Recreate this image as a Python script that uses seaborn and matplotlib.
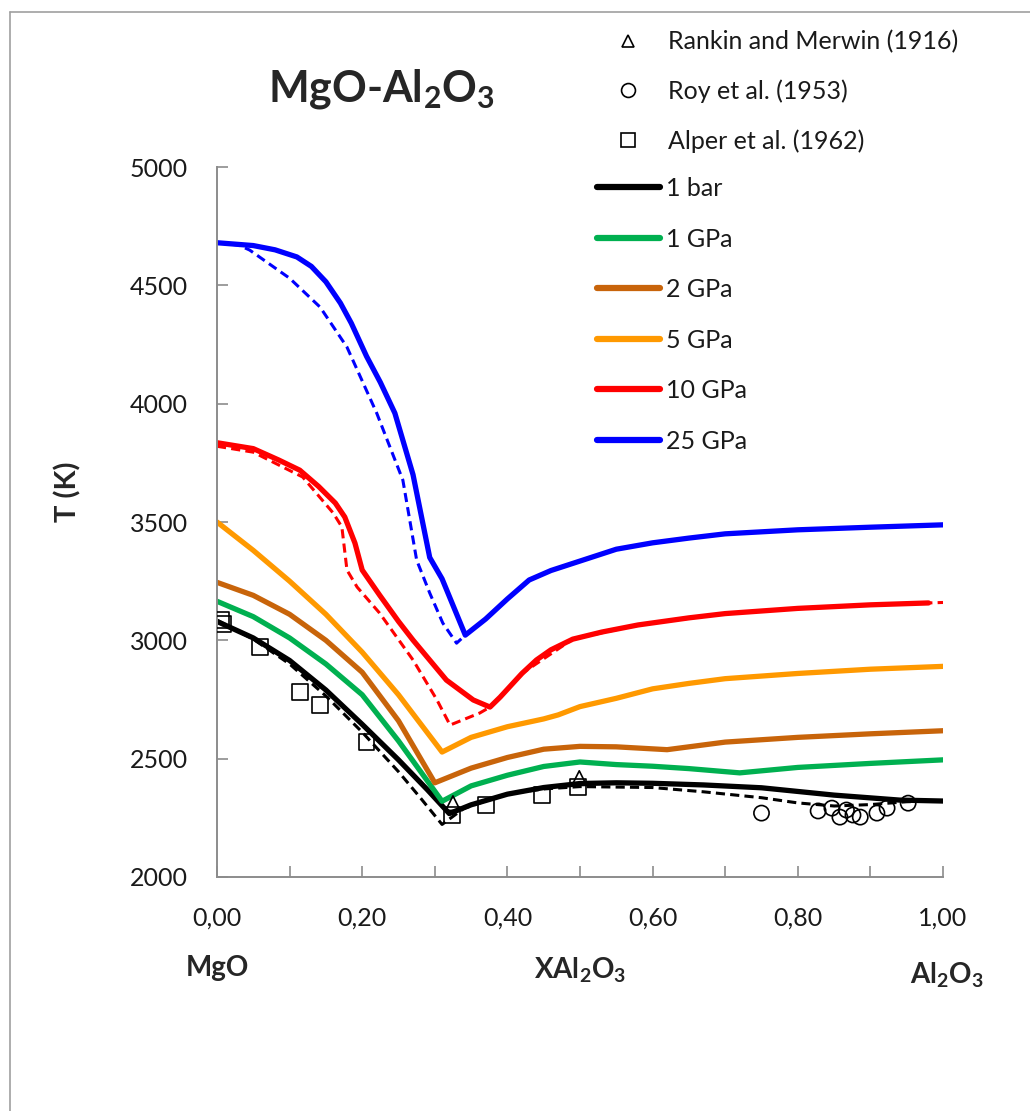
import matplotlib
matplotlib.use("Agg")
import matplotlib.pyplot as plt
from matplotlib.lines import Line2D
from matplotlib.ticker import FuncFormatter, MultipleLocator
import pandas as pd
import seaborn as sns

W, H = 1030, 1111
GRAY = "#8c8c8c"

SERIES = ["1 bar", "1 GPa", "2 GPa", "5 GPa", "10 GPa", "25 GPa"]
COLORS = ["#000000", "#00B050", "#C8640A", "#FF9900", "#FF0000", "#0000FF"]

# liquidus curves, solid lines
X_1BAR = [0.00, 0.05, 0.10, 0.15, 0.20, 0.25, 0.29, 0.32, 0.35, 0.40, 0.45, 0.50, 0.55, 0.60, 0.67, 0.75, 0.85, 0.94, 1.00]
T_1BAR = [3080, 3010, 2915, 2790, 2645, 2495, 2368, 2268, 2305, 2350, 2378, 2395, 2398, 2396, 2389, 2377, 2346, 2325, 2321]
X_1GPA = [0.00, 0.05, 0.10, 0.15, 0.20, 0.25, 0.31, 0.35, 0.40, 0.45, 0.50, 0.55, 0.60, 0.65, 0.72, 0.80, 0.90, 1.00]
T_1GPA = [3165, 3100, 3010, 2900, 2770, 2575, 2320, 2385, 2430, 2467, 2486, 2475, 2468, 2458, 2440, 2463, 2480, 2495]
X_2GPA = [0.00, 0.05, 0.10, 0.15, 0.20, 0.25, 0.30, 0.35, 0.40, 0.45, 0.50, 0.55, 0.62, 0.70, 0.80, 0.90, 1.00]
T_2GPA = [3245, 3190, 3110, 3000, 2865, 2660, 2398, 2460, 2505, 2540, 2552, 2550, 2538, 2570, 2590, 2605, 2618]
X_5GPA = [0.00, 0.05, 0.10, 0.15, 0.20, 0.25, 0.31, 0.35, 0.40, 0.45, 0.47, 0.50, 0.55, 0.60, 0.65, 0.70, 0.80, 0.90, 1.00]
T_5GPA = [3500, 3380, 3250, 3110, 2950, 2770, 2528, 2590, 2635, 2668, 2685, 2720, 2755, 2795, 2818, 2838, 2860, 2878, 2890]
X_10GPA = [0.00, 0.05, 0.085, 0.114, 0.14, 0.163, 0.176, 0.19, 0.20, 0.224, 0.25, 0.27, 0.316, 0.353, 0.376,
           0.39, 0.42, 0.44, 0.46, 0.49, 0.53, 0.58, 0.65, 0.70, 0.80, 0.90, 0.98]
T_10GPA = [3835, 3810, 3762, 3719, 3650, 3580, 3521, 3411, 3297, 3191, 3080, 3001, 2832, 2748, 2718,
           2760, 2860, 2917, 2960, 3005, 3035, 3065, 3095, 3113, 3135, 3150, 3158]
X_25GPA = [0.00, 0.05, 0.08, 0.11, 0.13, 0.15, 0.17, 0.185, 0.206, 0.225, 0.245, 0.27, 0.293, 0.31, 0.342,
           0.37, 0.40, 0.43, 0.46, 0.50, 0.55, 0.60, 0.65, 0.70, 0.80, 0.90, 1.00]
T_25GPA = [4680, 4668, 4650, 4620, 4580, 4515, 4425, 4340, 4200, 4090, 3960, 3700, 3350, 3260, 3022,
           3090, 3175, 3255, 3295, 3335, 3385, 3412, 3432, 3450, 3467, 3478, 3488]

# dashed curves
X_1BAR_D = [0.00, 0.05, 0.10, 0.15, 0.20, 0.25, 0.28, 0.31, 0.34, 0.40, 0.45, 0.50, 0.60, 0.67, 0.75, 0.80, 0.85, 0.90, 0.95, 1.00]
T_1BAR_D = [3085, 3005, 2900, 2765, 2612, 2445, 2335, 2222, 2290, 2352, 2372, 2382, 2378, 2360, 2335, 2313, 2300, 2306, 2318, 2322]
X_10GPA_D = [0.00, 0.05, 0.118, 0.16, 0.172, 0.179, 0.193, 0.224, 0.27, 0.303, 0.321, 0.362, 0.376,
             0.42, 0.49, 0.58, 0.70, 0.80, 0.90, 1.00]
T_10GPA_D = [3820, 3795, 3690, 3538, 3479, 3297, 3225, 3115, 2917, 2748, 2642, 2693, 2718,
             2860, 3005, 3065, 3113, 3135, 3150, 3160]
X_25GPA_D = [0.00, 0.03, 0.045, 0.10, 0.142, 0.179, 0.22, 0.256, 0.275, 0.293, 0.311, 0.33, 0.342]
T_25GPA_D = [4680, 4670, 4649, 4530, 4408, 4239, 3960, 3677, 3339, 3200, 3073, 2988, 3022]

# experimental points
X_RANKIN = [0.325, 0.499]
T_RANKIN = [2312, 2418]
X_ROY = [0.75, 0.828, 0.847, 0.858, 0.867, 0.876, 0.886, 0.909, 0.923, 0.952]
T_ROY = [2270, 2279, 2291, 2253, 2283, 2262, 2253, 2270, 2291, 2312]
X_ALPER = [0.005, 0.008, 0.059, 0.114, 0.142, 0.206, 0.324, 0.37, 0.448, 0.497]
T_ALPER = [3085, 3068, 2972, 2782, 2727, 2570, 2262, 2304, 2346, 2380]


def long_frame(pairs):
    rows = []
    for name, xs, ts in pairs:
        rows += [{"x": x, "T": t, "series": name} for x, t in zip(xs, ts)]
    return pd.DataFrame(rows)


solid = long_frame(zip(SERIES, [X_1BAR, X_1GPA, X_2GPA, X_5GPA, X_10GPA, X_25GPA],
                       [T_1BAR, T_1GPA, T_2GPA, T_5GPA, T_10GPA, T_25GPA]))
dashed = long_frame([("1 bar", X_1BAR_D, T_1BAR_D), ("10 GPa", X_10GPA_D, T_10GPA_D),
                     ("25 GPa", X_25GPA_D, T_25GPA_D)])
palette = dict(zip(SERIES, COLORS))

sns.set_theme(style="white")
plt.rcParams["font.family"] = ["Lato", "DejaVu Sans"]
plt.rcParams["mathtext.fontset"] = "custom"
plt.rcParams["mathtext.rm"] = "Lato"
plt.rcParams["mathtext.bf"] = "Lato:bold"

fig = plt.figure(figsize=(W / 100, H / 100), dpi=100)
ax = fig.add_axes([217 / W, 1 - 877 / H, 726 / W, 710 / H])

sns.lineplot(data=dashed, x="x", y="T", hue="series", palette=palette, estimator=None,
             sort=False, lw=2.2, linestyle=(0, (3, 1.7)), legend=False, ax=ax)
sns.lineplot(data=solid, x="x", y="T", hue="series", palette=palette, estimator=None,
             sort=False, lw=3.8, solid_capstyle="round", legend=False, ax=ax)

marker_kw = dict(facecolor="none", edgecolor="black", linewidth=1.2, zorder=5, ax=ax)
sns.scatterplot(x=X_RANKIN, y=T_RANKIN, marker="^", s=110, **marker_kw)
sns.scatterplot(x=X_ROY, y=T_ROY, marker="o", s=120, **marker_kw)
sns.scatterplot(x=X_ALPER, y=T_ALPER, marker="s", s=130, **marker_kw)

ax.set_xlim(0, 1)
ax.set_ylim(2000, 5000)
ax.set_xlabel("")
ax.set_ylabel("")
ax.xaxis.set_major_locator(MultipleLocator(0.2))
ax.xaxis.set_minor_locator(MultipleLocator(0.1))
ax.yaxis.set_major_locator(MultipleLocator(500))
ax.xaxis.set_major_formatter(FuncFormatter(lambda v, p: f"{v:.2f}".replace(".", ",")))
ax.tick_params(which="both", direction="in", length=8, width=1.2, color=GRAY,
               labelsize=18, pad=21, labelcolor="#1a1a1a")
ax.tick_params(axis="x", which="minor", bottom=True)
ax.tick_params(axis="x", bottom=True)
ax.tick_params(axis="y", left=True)
for side in ["top", "right"]:
    ax.spines[side].set_visible(False)
for side in ["left", "bottom"]:
    ax.spines[side].set_color(GRAY)
    ax.spines[side].set_linewidth(1.4)

# legends
mk = dict(linestyle="none", markerfacecolor="none", markeredgecolor="black", markeredgewidth=1.2)
pt_handles = [Line2D([], [], marker="^", markersize=9, **mk),
              Line2D([], [], marker="o", markersize=10, **mk),
              Line2D([], [], marker="s", markersize=10, **mk)]
leg1 = ax.legend(pt_handles, ["Rankin and Merwin (1916)", "Roy et al. (1953)", "Alper et al. (1962)"],
                 loc="upper left", bbox_to_anchor=(613 / W, 1 - 30 / H), bbox_transform=fig.transFigure,
                 frameon=False, fontsize=18, borderpad=0, borderaxespad=0, handlelength=1.2,
                 handletextpad=1.0, labelspacing=1.05, labelcolor="#1a1a1a")
ax.add_artist(leg1)
ln_handles = [Line2D([], [], color=c, lw=4.5, solid_capstyle="round") for c in COLORS]
ax.legend(ln_handles, SERIES, loc="upper left", bbox_to_anchor=(597 / W, 1 - 177 / H),
          bbox_transform=fig.transFigure, frameon=False, fontsize=18, borderpad=0, borderaxespad=0,
          handlelength=2.5, handletextpad=0.28, labelspacing=1.1, labelcolor="#1a1a1a")

# titles and composition labels
fig.text(381 / W, 1 - 89 / H, r"MgO-Al$_\mathbf{2}$O$_\mathbf{3}$", fontsize=31,
         fontweight="bold", ha="center", va="center")
fig.text(68 / W, 1 - 492 / H, "T (K)", rotation=90, fontsize=21, fontweight="bold",
         ha="center", va="center")
xt = ax.get_xaxis_transform()
ax.text(0.0, -0.128, "MgO", transform=xt, fontsize=20, fontweight="bold", ha="center", va="center")
ax.text(0.5, -0.131, r"XAl$_\mathbf{2}$O$_\mathbf{3}$", transform=xt, fontsize=20,
        fontweight="bold", ha="center", va="center")
ax.text(1.005, -0.138, r"Al$_\mathbf{2}$O$_\mathbf{3}$", transform=xt, fontsize=20,
        fontweight="bold", ha="center", va="center")

# outer chart border (partly outside the picture)
fig.add_artist(Line2D([10 / W, 10 / W], [0, 1 - 12 / H], transform=fig.transFigure, color="#a0a0a0", lw=1.2))
fig.add_artist(Line2D([10 / W, 1], [1 - 12 / H, 1 - 12 / H], transform=fig.transFigure, color="#a0a0a0", lw=1.2))

fig.savefig("out.png", dpi=100)
